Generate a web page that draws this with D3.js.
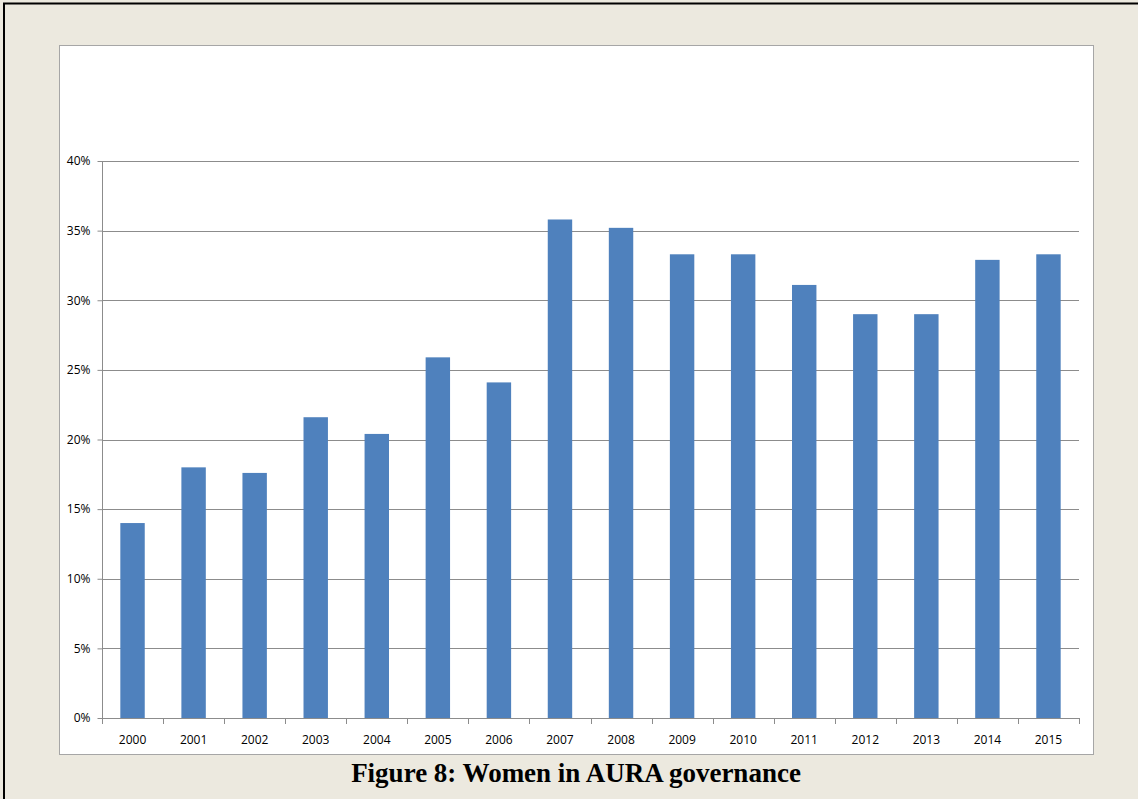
<!DOCTYPE html>
<html>
<head>
<meta charset="utf-8">
<script src="https://cdn.jsdelivr.net/npm/d3@7"></script>
<style>
  html, body { margin: 0; padding: 0; background: #ece9df; }
  svg { display: block; }
</style>
</head>
<body>
<div id="chart"></div>
<script>
// data
var years = ["2000", "2001", "2002", "2003", "2004", "2005", "2006", "2007",
             "2008", "2009", "2010", "2011", "2012", "2013", "2014", "2015"];
var women = [0.140, 0.180, 0.176, 0.216, 0.204, 0.259, 0.241, 0.358,
             0.352, 0.333, 0.333, 0.311, 0.290, 0.290, 0.329, 0.333];
var yTicks = [0, 0.05, 0.10, 0.15, 0.20, 0.25, 0.30, 0.35, 0.40];
var caption = "Figure 8: Women in AURA governance";

var W = 1138, H = 799;
var plotL = 102, plotR = 1079, plotT = 161, plotB = 718;

var svg = d3.select("#chart").append("svg").attr("width", W).attr("height", H);

// page frame
svg.append("rect").attr("width", W).attr("height", H).attr("fill", "#ece9df");
svg.append("line").attr("x1", 4).attr("x2", 4).attr("y1", 3).attr("y2", H)
    .attr("stroke", "#000").attr("stroke-width", 2);
svg.append("line").attr("x1", 3).attr("x2", W).attr("y1", 3.5).attr("y2", 3.5)
    .attr("stroke", "#000").attr("stroke-width", 2);

// chart box
svg.append("rect")
    .attr("x", 59.5).attr("y", 45.5).attr("width", 1034).attr("height", 709)
    .attr("fill", "#fff").attr("stroke", "#a6a6a6").attr("stroke-width", 1);

var x = d3.scaleBand().domain(years).range([plotL, plotR]).paddingInner(0.6).paddingOuter(0.3);
var y = d3.scaleLinear().domain([0, 0.4]).range([plotB, plotT]);

// gridlines
svg.append("g").selectAll("line")
    .data(yTicks.slice(1))
    .enter().append("line")
    .attr("x1", plotL).attr("x2", plotR)
    .attr("y1", function(d) { return Math.round(y(d)) + 0.5; })
    .attr("y2", function(d) { return Math.round(y(d)) + 0.5; })
    .attr("stroke", "#8c8c8c").attr("stroke-width", 1);

// bars
svg.append("g").selectAll("rect")
    .data(women)
    .enter().append("rect")
    .attr("x", function(d, i) { return x(years[i]); })
    .attr("width", x.bandwidth())
    .attr("y", function(d) { return y(d); })
    .attr("height", function(d) { return plotB - y(d); })
    .attr("fill", "#4f81bd");

// y axis
var yAxis = svg.append("g")
    .attr("transform", "translate(" + (plotL + 0.5) + ",0)")
    .call(d3.axisLeft(y).tickValues(yTicks).tickFormat(d3.format(".0%")).tickSize(5).tickPadding(7));

// x axis, tick marks at the category boundaries
var xAxis = svg.append("g")
    .attr("transform", "translate(0," + (plotB + 0.5) + ")")
    .call(d3.axisBottom(x).tickSize(0).tickPadding(17));
var step = x.step();
svg.append("g").selectAll("line")
    .data(d3.range(years.length + 1))
    .enter().append("line")
    .attr("x1", function(i) { return Math.round(plotL + i * step) + 0.5; })
    .attr("x2", function(i) { return Math.round(plotL + i * step) + 0.5; })
    .attr("y1", plotB).attr("y2", plotB + 6)
    .attr("stroke", "#8c8c8c");

[yAxis, xAxis].forEach(function(g) {
    g.select(".domain").attr("stroke", "#8c8c8c");
    g.selectAll(".tick line").attr("stroke", "#8c8c8c");
    g.selectAll("text").attr("fill", "#000")
        .style("font-family", "'Open Sans', 'Liberation Sans', sans-serif").style("font-size", "12px");
});
yAxis.select(".domain").attr("d", "M0," + plotT + "V" + plotB);
xAxis.select(".domain").attr("d", "M" + plotL + ",0H" + plotR);

// caption
svg.append("text")
    .attr("x", 576).attr("y", 782)
    .attr("text-anchor", "middle")
    .style("font-family", "'Liberation Serif', 'Times New Roman', serif")
    .style("font-weight", "bold").style("font-size", "27px")
    .attr("fill", "#000")
    .text(caption);
</script>
</body>
</html>
